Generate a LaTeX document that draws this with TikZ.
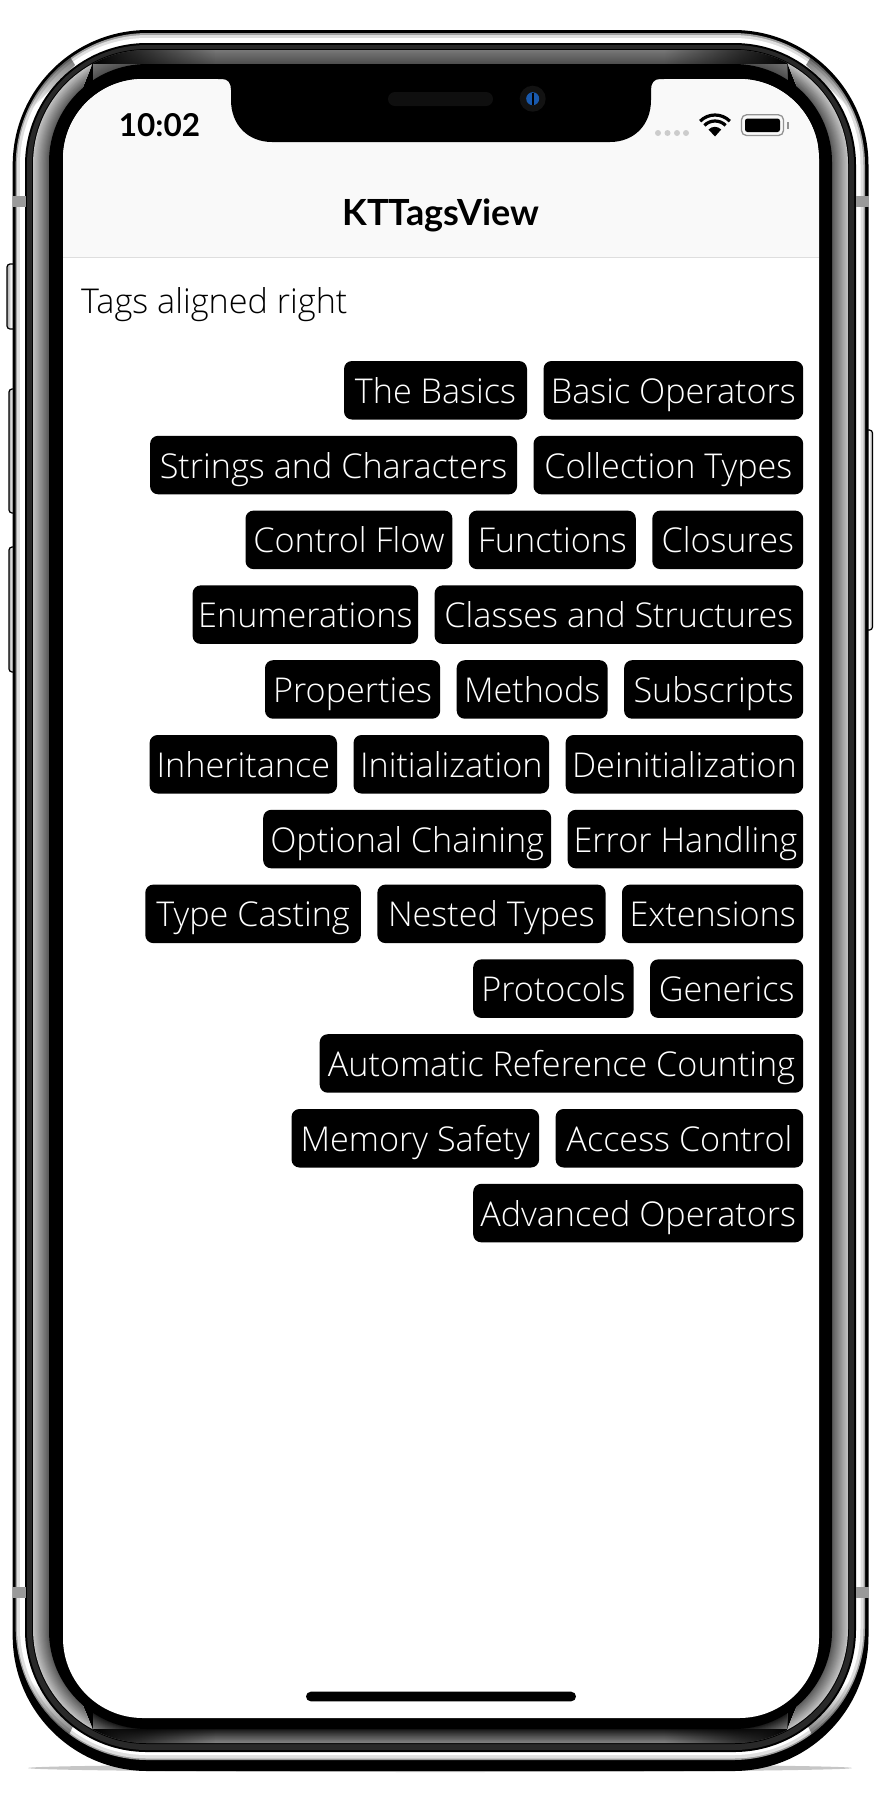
\documentclass[tikz,border=0pt]{standalone}
\usepackage{fontspec}
\setmainfont{Open Sans Light}
\newfontfamily\navfont{Lato Bold}
\usetikzlibrary{positioning, fadings}

\definecolor{barcol}{gray}{0.976}
\definecolor{linecol}{gray}{0.87}
\definecolor{dotcol}{gray}{0.8}
\definecolor{bandcol}{gray}{0.16}
\definecolor{lenscol}{rgb}{0.1,0.35,0.68}

% one filled layer of the phone body
\newcommand{\shell}[6]{\fill[#6, rounded corners=#5pt] (#1,#2) rectangle (#3,#4);}
% the polished ring, from gray #1 (outside) to gray #2 (inside)
\newcommand{\gradshell}[2]{
	\foreach \t in {0,...,15} {
		\pgfmathsetmacro{\g}{#1+(#2-#1)*\t/15}
		\definecolor{shellcol}{gray}{\g}
		\shell{33+\t*16/15}{50+\t*14/15}{848-\t*16/15}{1743-\t*14/15}{\the\numexpr114-\t\relax}{shellcol}
	}
}

\begin{document}
\begin{tikzpicture}[x=1pt, y=-1pt]
		\tikzstyle{Tag} = [rectangle, rounded corners=8pt, fill=black, text=white, minimum height=58.5pt, inner xsep=0pt, inner ysep=0pt, outer sep=0pt, text height=32pt, text depth=6pt, font=\fontsize{34.2}{40}\selectfont]
		\tikzstyle{Side} = [draw=black, line width=1.2pt, rounded corners=3pt, left color=gray!70, right color=gray!70, middle color=white]
		\tikzstyle{Band} = [fill=gray!80!white]
		
		\useasboundingbox (0,0) rectangle (880,1800);
		
		% shadow and buttons
		\fill[gray!45] (440,1768) ellipse [x radius=412, y radius=4];
		\draw[Side] (7,264) rectangle (16,329);
		\draw[Side] (9,389) rectangle (16,513);
		\draw[Side] (9,547) rectangle (16,672);
		\draw[Side] (865,430) rectangle (872.5,630);
		
		% phone body
		\shell{12.7}{30}{868.5}{1771}{135}{black}
		\shell{15.7}{33}{865}{1760}{132}{gray!75}
		\shell{17}{35}{863.5}{1758.5}{130.5}{gray!25}
		\shell{20}{38}{860.5}{1755}{127}{white}
		\begin{scope}
			\clip[rounded corners=132pt] (15.7,33) rectangle (865,1760);
			\fill[black!85, path fading=south] (75,65) -- (50,25) -- (0,25) -- (0,110) -- (30,110) -- cycle;
			\fill[black!85, path fading=south] (806,65) -- (831,25) -- (881,25) -- (881,110) -- (851,110) -- cycle;
			\fill[black!85, path fading=north] (75,1722) -- (50,1775) -- (0,1775) -- (0,1680) -- (30,1680) -- cycle;
			\fill[black!85, path fading=north] (806,1722) -- (831,1775) -- (881,1775) -- (881,1680) -- (851,1680) -- cycle;
		\end{scope}
		\shell{25}{43}{856}{1752}{122}{black}
		\shell{27}{45}{854}{1750}{120}{bandcol}
		\shell{32}{49}{849}{1744}{115}{black}
		\shell{33}{50}{848}{1743}{114}{black}
		\begin{scope}
			\clip (0,0) -- (93,62) -- (49,170) -- (49,1625) -- (93,1730) -- (0,1800) -- cycle
				(880,0) -- (787,62) -- (831,170) -- (831,1625) -- (787,1730) -- (880,1800) -- cycle;
			\gradshell{0.75}{0.33}
		\end{scope}
		\begin{scope}
			\clip (93,0) rectangle (787,200);
			\gradshell{0.47}{0.30}
		\end{scope}
		\begin{scope}
			\clip (93,1650) rectangle (787,1800);
			\gradshell{0.50}{0.07}
		\end{scope}
		\shell{49}{64}{832}{1729}{98}{black}
		\begin{scope}
			\clip[rounded corners=114pt] (33,50) rectangle (848,1743);
			\fill[black, path fading=east] (93,40) rectangle (215,64);
			\fill[black, path fading=west] (665,40) rectangle (787,64);
			\fill[black, path fading=east] (93,1729) rectangle (215,1750);
			\fill[black, path fading=west] (665,1729) rectangle (787,1750);
		\end{scope}
		\fill[Band] (13,196) rectangle (26,207);
		\fill[Band] (13,1587) rectangle (26,1598);
		\fill[Band] (856,196) rectangle (868.5,207);
		\fill[Band] (856,1587) rectangle (868.5,1598);
		
		% screen
		\shell{63}{79}{819}{1718}{80}{white}
		\begin{scope}
			\clip[rounded corners=80pt] (63,79) rectangle (819,1718);
			\fill[barcol] (63,79) rectangle (819,256.5);
			\fill[linecol] (63,256.5) rectangle (819,258);
		\end{scope}
		
		% notch
		\fill[black] (218,70) -- (218,79) -- (222,79) .. controls (228,79) and (231,83) .. (231,90) -- (231,100)
			.. controls (231,125) and (248,142) .. (272,142) -- (610,142)
			.. controls (634,142) and (651,125) .. (651,100) -- (651,90)
			.. controls (651,83) and (654,79) .. (660,79) -- (664,79) -- (664,70) -- cycle;
		\fill[gray!12!black, rounded corners=7pt] (388,92) rectangle (493,106);
		\fill[gray!14!black] (532.7,98.7) circle (13pt);
		\fill[lenscol] (532.7,98.7) circle (6.5pt);
		\fill[black] (531.7,92.5) rectangle (533.7,105);
		
		% status bar
		\node (clock) [anchor=base, font=\navfont\fontsize{31.5}{36}\selectfont] at (159.5,136) {10:02};
		\foreach \x in {658,667.5,677,686} \fill[dotcol] (\x,133) circle (3pt);
		\fill[black] (715,136.5) -- (708.5,129.5) arc[start angle=-135, end angle=-45, radius=9] -- cycle;
		\draw[black, line width=3.2pt] (715,136) ++(-135:15) arc[start angle=-135, end angle=-45, radius=15];
		\draw[black, line width=3.2pt] (715,136) ++(-135:21) arc[start angle=-135, end angle=-45, radius=21];
		\draw[gray!85, line width=1.3pt, rounded corners=5pt] (741.5,114.8) rectangle (783.5,135.5);
		\fill[black, rounded corners=2.5pt] (745,118.5) rectangle (780,132);
		\fill[gray!85] (787,122) rectangle (789,129);
		
		% title and caption
		\node (title) [anchor=base, font=\navfont\fontsize{36}{40}\selectfont] at (441,225) {KTTagsView};
		\node (caption) [anchor=base west, inner sep=0pt, font=\fontsize{34.2}{40}\selectfont] at (81,313) {Tags aligned right};
		
		% tags, right to left in each row
		\node (operators) [Tag, anchor=north east, minimum width=259.7pt] at (803.2,361) {Basic Operators};
		\node (basics) [Tag, minimum width=183pt, left=16.5pt of operators] {The Basics};
		
		\node (collection) [Tag, minimum width=269.7pt, below=16.3pt of operators.south east, anchor=north east] {Collection Types};
		\node (strings) [Tag, minimum width=366.9pt, left=16.5pt of collection] {Strings and Characters};
		
		\node (closures) [Tag, minimum width=150.9pt, below=16.3pt of collection.south east, anchor=north east] {Closures};
		\node (functions) [Tag, minimum width=166.9pt, left=16.5pt of closures] {Functions};
		\node (control) [Tag, minimum width=206.9pt, left=16.5pt of functions] {Control Flow};
		
		\node (classes) [Tag, minimum width=368.6pt, below=16.3pt of closures.south east, anchor=north east] {Classes and Structures};
		\node (enums) [Tag, minimum width=225.5pt, left=16.5pt of classes] {Enumerations};
		
		\node (subscripts) [Tag, minimum width=179.1pt, below=16.3pt of classes.south east, anchor=north east] {Subscripts};
		\node (methods) [Tag, minimum width=150.9pt, left=16.5pt of subscripts] {Methods};
		\node (properties) [Tag, minimum width=175.2pt, left=16.5pt of methods] {Properties};
		
		\node (deinit) [Tag, minimum width=237.6pt, below=16.3pt of subscripts.south east, anchor=north east] {Deinitialization};
		\node (init) [Tag, minimum width=195.6pt, left=16.5pt of deinit] {Initialization};
		\node (inherit) [Tag, minimum width=187.4pt, left=16.5pt of init] {Inheritance};
		
		\node (errors) [Tag, minimum width=235.5pt, below=16.3pt of deinit.south east, anchor=north east] {Error Handling};
		\node (optional) [Tag, minimum width=288pt, left=16.5pt of errors] {Optional Chaining};
		
		\node (extensions) [Tag, minimum width=181.2pt, below=16.3pt of errors.south east, anchor=north east] {Extensions};
		\node (nested) [Tag, minimum width=228.1pt, left=16.5pt of extensions] {Nested Types};
		\node (casting) [Tag, minimum width=215.6pt, left=16.5pt of nested] {Type Casting};
		
		\node (generics) [Tag, minimum width=153.1pt, below=16.3pt of extensions.south east, anchor=north east] {Generics};
		\node (protocols) [Tag, minimum width=160.4pt, left=16.5pt of generics] {Protocols};
		
		\node (arc) [Tag, minimum width=483.5pt, below=16.3pt of generics.south east, anchor=north east] {Automatic Reference Counting};
		
		\node (access) [Tag, minimum width=247.6pt, below=16.3pt of arc.south east, anchor=north east] {Access Control};
		\node (memory) [Tag, minimum width=247.6pt, left=16.5pt of access] {Memory Safety};
		
		\node (advanced) [Tag, minimum width=330pt, below=16.3pt of access.south east, anchor=north east] {Advanced Operators};
		
		% home indicator
		\fill[black, rounded corners=4.8pt] (306,1691.7) rectangle (576,1701.3);
		
		\end{tikzpicture}
\end{document}
